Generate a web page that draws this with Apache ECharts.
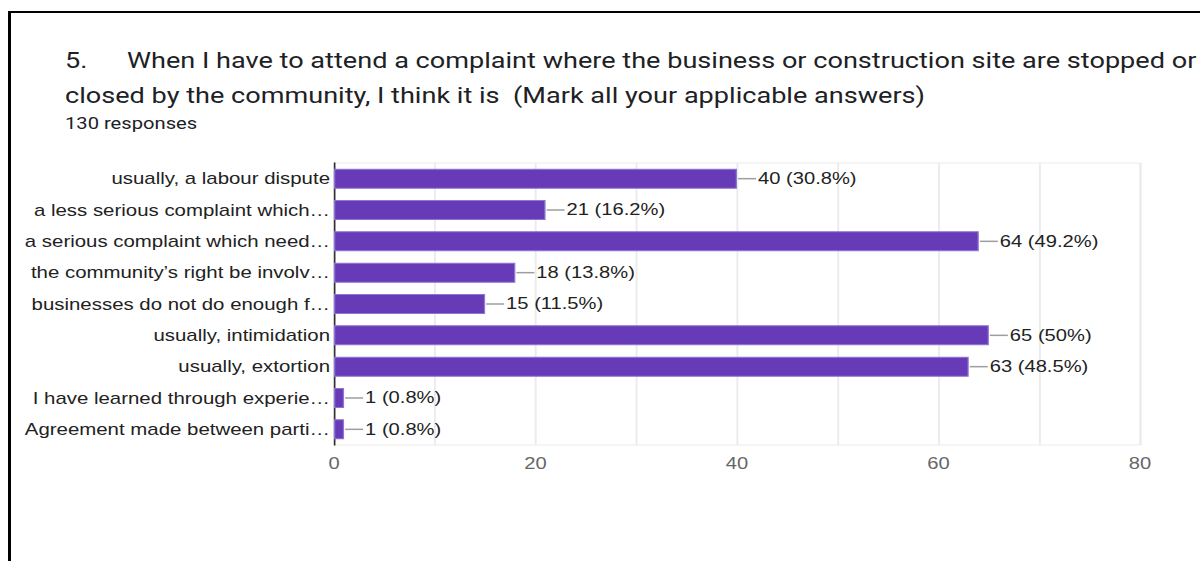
<!DOCTYPE html>
<html>
<head>
<meta charset="utf-8">
<script src="https://cdn.jsdelivr.net/npm/echarts@6/dist/echarts.min.js"></script>
<style>
  html, body { margin: 0; padding: 0; background: #fff; }
  #page { position: absolute; left: 0; top: 0; width: 1200px; height: 561px; overflow: hidden; background: #fff; }
  #card { position: absolute; left: 8px; top: 11px; right: -10px; bottom: -10px;
          border-left: 3px solid #000; border-top: 2px solid #000; }
  #chart { position: absolute; left: 0; top: 0; width: 952px; height: 561px;
           transform: scaleX(1.2605); transform-origin: 0 0; }
</style>
</head>
<body>
<div id="page">
  <div id="card"></div>
  <div id="chart"></div>
</div>
<script>
// Survey question 5: responses per answer option (130 respondents)
const categories = [
  'usually, a labour dispute',
  'a less serious complaint which\u2026',
  'a serious complaint which need\u2026',
  'the community\u2019s right be involv\u2026',
  'businesses do not do enough f\u2026',
  'usually, intimidation',
  'usually, extortion',
  'I have learned through experie\u2026',
  'Agreement made between parti\u2026'
];
const counts = [40, 21, 64, 18, 15, 65, 63, 1, 1];
const percents = ['30.8%', '16.2%', '49.2%', '13.8%', '11.5%', '50%', '48.5%', '0.8%', '0.8%'];
const xTicks = [0, 20, 40, 60, 80];

const questionLine1 = 'When I have to attend a complaint where the business or construction site are stopped or';
const questionLine2 = 'closed by the community, I think it is  (Mark all your applicable answers)';
const responsesText = '130 responses';

// horizontal stretch applied to the chart element
const SX = 1.2605;

const chart = echarts.init(document.getElementById('chart'), null, { renderer: 'svg' });

const labelFont = 'Liberation Sans, Arial, sans-serif';

chart.setOption({
  animation: false,
  backgroundColor: 'transparent',
  title: [
    {
      left: 65 / SX,
      top: 43,
      padding: 0,
      text: '{n|5.}' + questionLine1 + '\n' + questionLine2,
      textStyle: {
        fontFamily: 'Roboto, sans-serif',
        fontSize: 21.5,
        fontWeight: 'normal',
        color: '#202124',
        lineHeight: 35,
        rich: {
          n: {
            width: 62 / SX,
            fontFamily: 'Roboto, sans-serif',
            fontSize: 21.5,
            color: '#202124',
            lineHeight: 35
          }
        }
      }
    },
    {
      left: 65 / SX,
      top: 113,
      padding: 0,
      text: responsesText,
      textStyle: {
        fontFamily: 'Roboto, sans-serif',
        fontSize: 16,
        fontWeight: 'normal',
        color: '#202124',
        lineHeight: 20
      }
    }
  ],
  grid: {
    left: 334 / SX,
    right: 60 / SX,
    top: 163,
    bottom: 116,
    show: true,
    borderColor: '#ebebeb',
    borderWidth: 1,
    containLabel: false
  },
  xAxis: {
    type: 'value',
    min: xTicks[0],
    max: xTicks[xTicks.length - 1],
    interval: xTicks[1] - xTicks[0],
    axisLine: { show: false },
    axisTick: { show: false },
    axisLabel: {
      color: '#666',
      fontFamily: labelFont,
      fontSize: 16,
      margin: 11
    },
    splitLine: { show: true, lineStyle: { color: '#ebebeb', width: 1.5 } },
    minorTick: { show: false, splitNumber: 2 },
    minorSplitLine: { show: true, lineStyle: { color: '#ebebeb', width: 1.5 } }
  },
  yAxis: {
    type: 'category',
    data: categories,
    inverse: true,
    axisLine: { show: true, lineStyle: { color: '#333', width: 1.3 } },
    axisTick: { show: false },
    axisLabel: {
      color: '#222',
      fontFamily: labelFont,
      fontSize: 16.2,
      margin: 4 / SX
    },
    splitLine: { show: false }
  },
  series: [
    {
      type: 'bar',
      data: counts,
      barWidth: 20,
      itemStyle: {
        color: '#673ab7',
        borderColor: '#8f74d3',
        borderWidth: 1
      },
      label: {
        show: true,
        position: 'right',
        distance: 21 / SX,
        color: '#222',
        fontFamily: labelFont,
        fontSize: 16,
        formatter: p => p.value + ' (' + percents[p.dataIndex] + ')'
      },
      z: 2
    },
    {
      // short leader lines from each bar end to its value label
      type: 'custom',
      data: counts.map((v, i) => [v, i]),
      encode: { x: 0, y: 1 },
      silent: true,
      z: 3,
      renderItem: (params, api) => {
        const p = api.coord([api.value(0), api.value(1)]);
        return {
          type: 'line',
          shape: { x1: p[0] + 0.8, y1: p[1], x2: p[0] + 19 / SX, y2: p[1] },
          style: { stroke: '#9e9e9e', lineWidth: 1.5 }
        };
      }
    }
  ]
});
</script>
</body>
</html>
